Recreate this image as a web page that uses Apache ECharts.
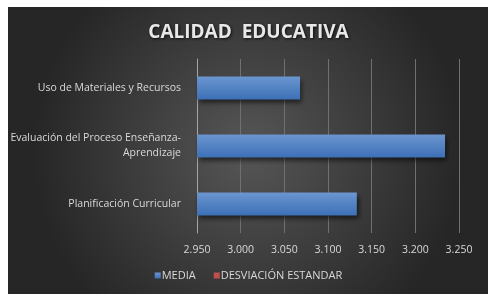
<!DOCTYPE html>
<html>
<head>
<meta charset="utf-8">
<script src="https://cdn.jsdelivr.net/npm/echarts@6/dist/echarts.min.js"></script>
<style>
  html, body { margin: 0; padding: 0; background: #fff; }
  #chart { width: 497px; height: 302px; }
</style>
</head>
<body>
<div id="chart"></div>
<script>
const categories = [
  "Planificación Curricular",
  "Evaluación del Proceso Enseñanza-Aprendizaje",
  "Uso de Materiales y Recursos",
];
const media = [3.133, 3.234, 3.068];
const desviacion = [null, null, null];
const tickMin = 2.95;
const tickMax = 3.25;
const tickStep = 0.05;

const chart = echarts.init(document.getElementById("chart"));

const font = "'Open Sans', 'Liberation Sans', sans-serif";

chart.setOption({
  animation: false,
  graphic: [
    {
      type: "rect",
      silent: true,
      z: -10,
      shape: { x: 8, y: 7, width: 480, height: 287 },
      style: {
        fill: {
          type: "radial",
          x: 0.5,
          y: 0.5,
          r: 0.75,
          colorStops: [
            { offset: 0, color: "#565656" },
            { offset: 1, color: "#262626" },
          ],
        },
      },
    },
  ],
  title: {
    text: "CALIDAD  EDUCATIVA",
    left: "center",
    top: 18,
    textStyle: {
      color: "#e8e8e8",
      fontFamily: font,
      fontWeight: "bold",
      fontSize: 19,
      textShadowColor: "rgba(0,0,0,0.8)",
      textShadowBlur: 3,
      textShadowOffsetX: 1,
      textShadowOffsetY: 1,
    },
  },
  legend: {
    data: ["MEDIA", "DESVIACIÓN ESTANDAR"],
    bottom: 16,
    left: "center",
    itemWidth: 6,
    itemHeight: 6,
    itemGap: 18,
    icon: "rect",
    textStyle: {
      color: "#d9d9d9",
      fontFamily: font,
      fontSize: 11,
      padding: [0, 0, 0, -4],
    },
  },
  grid: {
    left: 197,
    right: 38,
    top: 59,
    bottom: 69,
  },
  xAxis: {
    type: "value",
    min: tickMin,
    max: tickMax,
    interval: tickStep,
    axisLine: { show: false },
    axisTick: { show: false },
    axisLabel: {
      color: "#d9d9d9",
      fontFamily: font,
      fontSize: 10.5,
      margin: 12,
      formatter: (v) => v.toFixed(3),
    },
    splitLine: { lineStyle: { color: "#707070", width: 1 } },
  },
  yAxis: {
    type: "category",
    data: categories,
    axisLine: { show: true, lineStyle: { color: "#a6a6a6", width: 1 } },
    axisTick: { show: false },
    axisLabel: {
      color: "#d9d9d9",
      fontFamily: font,
      fontSize: 10.5,
      margin: 16,
      lineHeight: 15,
      align: "right",
      formatter: (v) => v.replace("Enseñanza-", "Enseñanza-\n"),
    },
  },
  series: [
    {
      name: "MEDIA",
      type: "bar",
      data: media,
      barWidth: 23,
      barGap: "-100%",
      itemStyle: {
        color: {
          type: "linear",
          x: 0, y: 0, x2: 0, y2: 1,
          colorStops: [
            { offset: 0, color: "#6b96d0" },
            { offset: 1, color: "#3c70b6" },
          ],
        },
        shadowColor: "rgba(0,0,0,0.6)",
        shadowBlur: 5,
        shadowOffsetX: 2,
        shadowOffsetY: 3,
      },
    },
    {
      name: "DESVIACIÓN ESTANDAR",
      type: "bar",
      data: desviacion,
      barWidth: 23,
      itemStyle: { color: "#c0504d" },
    },
  ],
});
</script>
</body>
</html>
